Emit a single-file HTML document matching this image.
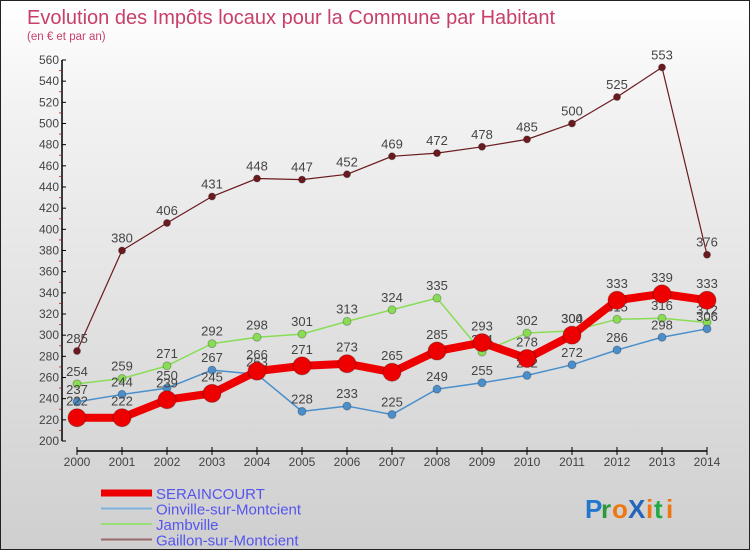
<!DOCTYPE html>
<html><head><meta charset="utf-8"><style>
body{margin:0}
#c{width:750px;height:550px;position:relative;box-sizing:border-box;border:1px solid #222;background:linear-gradient(#ffffff,#f2f2f2 20%,#cfcfcf);font-family:"Liberation Sans",sans-serif;overflow:hidden}
svg{position:absolute;left:0;top:0}
</style></head><body>
<div id="c">
<svg id="s" width="750" height="550" font-family="Liberation Sans, sans-serif">
<text x="26" y="23" font-size="20" fill="#c8406a">Evolution des Impôts locaux pour la Commune par Habitant</text>
<text x="26" y="39" font-size="11.5" fill="#c8406a">(en € et par an)</text>
<g id="axes"></g><g id="series"></g><g id="legend"></g>
<g font-size="26" font-family="Liberation Sans, sans-serif" font-weight="bold">
<text x="584" y="517" fill="#2277cc">P</text><text x="600" y="517" fill="#2a9a3a">r</text><text x="611" y="517" fill="#ee7711">o</text><text x="627" y="517" fill="#2266bb">X</text><text x="645" y="517" fill="#ee7711">i</text><text x="653" y="517" fill="#22aa44">t</text><text x="665" y="517" fill="#ee7711">i</text>
</g>
</svg>
</div>
<script>
const years=[2000,2001,2002,2003,2004,2005,2006,2007,2008,2009,2010,2011,2012,2013,2014];
const seraincourt=[222,222,239,245,266,271,273,265,285,293,278,300,333,339,333];
const oinville=[237,244,250,267,263,228,233,225,249,255,262,272,286,298,306];
const jambville=[254,259,271,292,298,301,313,324,335,284,302,304,315,316,312];
const gaillon=[285,380,406,431,448,447,452,469,472,478,485,500,525,553,376];
const yTicks=[200,220,240,260,280,300,320,340,360,380,400,420,440,460,480,500,520,540,560];
const NS='http://www.w3.org/2000/svg';
const X=i=>76+i*45;
const Y=v=>440-(v-200)*381/360;
function mk(p,t,a){const e=document.createElementNS(NS,t);for(const k in a)e.setAttribute(k,a[k]);p.appendChild(e);return e;}
const ax=document.getElementById('axes');
const yl=mk(ax,'line',{x1:61,y1:Y(560),x2:61,y2:440,stroke:'#000','stroke-width':1.5});


yTicks.forEach(v=>{
 mk(ax,'line',{x1:61,x2:65,y1:Y(v),y2:Y(v),stroke:'#000'});
 if(v<560)mk(ax,'line',{x1:58,x2:60,y1:Y(v+10),y2:Y(v+10),stroke:'#e33'});
 const t=mk(ax,'text',{x:58,y:Y(v)+4,'font-size':12,fill:'#444','text-anchor':'end'});t.textContent=v;
 
 
});
const xl=mk(ax,'line',{x1:X(0),x2:X(14),y1:450,y2:450,stroke:'#000','stroke-width':1.5});


years.forEach((y,i)=>{
 mk(ax,'line',{x1:X(i),x2:X(i),y1:446,y2:454,stroke:'#000'});
 const t=mk(ax,'text',{x:X(i),y:465,'font-size':12,fill:'#444','text-anchor':'middle'});t.textContent=y;
 
 
});
const sg=document.getElementById('series');
const defs=[
 {d:gaillon,c:'#6b1a1f',w:1.2,r:3.5,name:'gaillon'},
 {d:jambville,c:'#88dd55',w:1.5,r:4,name:'jambville'},
 {d:oinville,c:'#4a8fcc',w:1.5,r:4,name:'oinville'},
 {d:seraincourt,c:'#ee0000',w:8,r:9,name:'seraincourt'}];
defs.forEach(s=>{
 const g=mk(sg,'g',{});
 
 
 const pl=mk(g,'polyline',{points:s.d.map((v,i)=>X(i)+','+Y(v)).join(' '),fill:'none',stroke:s.c,'stroke-width':s.w,'stroke-linejoin':'round'});
 
 
 s.d.forEach((v,i)=>{
  const c=mk(g,'circle',{cx:X(i),cy:Y(v),r:s.r,fill:s.c,stroke:'rgba(0,0,0,0.25)','stroke-width':1});
  
  
  const t=mk(g,'text',{x:X(i),y:Y(v)-(s.r>5?12:8),'font-size':13,fill:'#444','text-anchor':'middle'});t.textContent=v;
  
  
 });
});
const lg=document.getElementById('legend');
const items=[['SERAINCOURT','#ee0000',7],['Oinville-sur-Montcient','#7fb3dd',2],['Jambville','#99dd77',2],['Gaillon-sur-Montcient','#9a6a6a',2]];
items.forEach((it,i)=>{
 const y=492+i*15.5;
 const l=mk(lg,'line',{x1:100,x2:151,y1:y,y2:y,stroke:it[1],'stroke-width':it[2]});
 
 
 const t=mk(lg,'text',{x:155,y:y+6,'font-size':15,fill:'#5555ee'});t.textContent=it[0];
 
 
});
</script>
</body></html>
